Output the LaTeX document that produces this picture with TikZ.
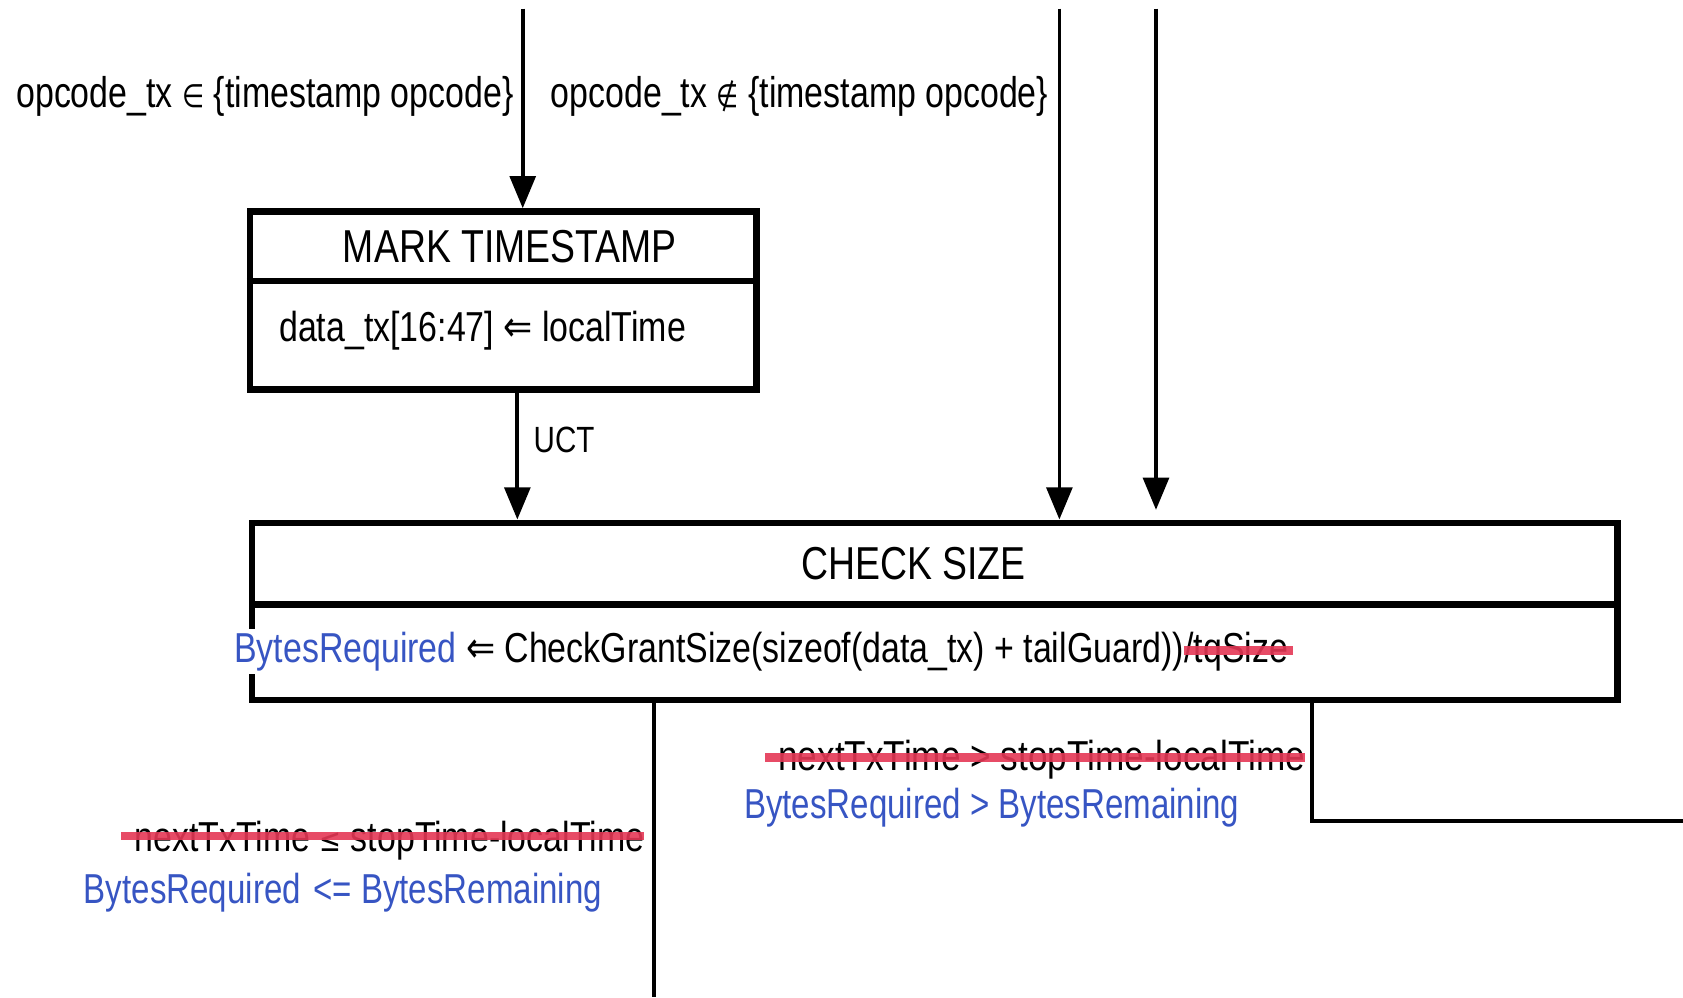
\documentclass[tikz,border=0pt]{standalone}
\usepackage{fontspec}
\setmainfont{Liberation Sans}
\newfontfamily\symf{DejaVu Sans}
\usetikzlibrary{arrows.meta}
\definecolor{reqblue}{RGB}{55,85,195}
\definecolor{strikered}{RGB}{228,55,85}
% narrow (condensed) setting of a text, optional width factor
\newcommand{\nar}[2][0.81]{\scalebox{#1}[1]{#2}}
\newcommand{\sym}[1]{{\symf\fontsize{30}{30}\selectfont #1}}
\newcommand{\assign}{{\symf\fontsize{40}{40}\selectfont ⇐}}

\begin{document}
\begin{tikzpicture}[x=1pt,y=-1pt,
  box/.style={draw, line width=6pt, inner sep=0pt},
  conn/.style={line width=3.5pt},
  arr/.style={conn, -{Triangle[width=24pt,length=30pt]}},
  lbl/.style={inner sep=0pt, anchor=base west},
  body/.style={lbl, font=\fontsize{39}{47}\selectfont},
  title/.style={inner sep=0pt, anchor=base, font=\fontsize{43}{50}\selectfont},
  strike/.style={draw=strikered, line width=8pt, opacity=0.9},
]
\useasboundingbox (0,0) rectangle (1568,929);

% states
\node[box, minimum width=472pt, minimum height=166pt] (mts) at (469,280) {};
\draw[line width=6pt] (mts.west |- 0,262) -- (mts.east |- 0,262);
\node[box, minimum width=1272pt, minimum height=165pt] (cs) at (871,569.5) {};
\draw[line width=6pt] (cs.west |- 0,563) -- (cs.east |- 0,563);

% state texts
\node[title] (mtst) at (475,245) {\nar{MARK TIMESTAMP}};
\node[body] (mtsb) at (260,318) {\nar{data\_tx[16:47] \assign{} localTime}};
\node[title] (cst) at (851,540) {\nar{CHECK SIZE}};
\node[body, fill=white, inner ysep=3pt] (csb) at (218,617)
  {\nar{\textcolor{reqblue}{BytesRequired} \assign{} CheckGrantSize(sizeof(data\_tx) + tailGuard))}};
\node[body] (tq) at (csb.base east) {\nar{/tqSize}};
\draw[strike] ([yshift=11pt]tq.base west) -- ([yshift=11pt,xshift=4pt]tq.base east);

% incoming transitions
\coordinate (in1) at (487,8);
\coordinate (in2) at (987,8);
\coordinate (in3) at (1077,8);
\draw[arr] (in1) -- (in1 |- mts.north);
\draw[arr] (in2) -- (in2 |- cs.north);
\draw[arr, shorten >=9pt] (in3) -- (in3 |- cs.north);
\node[lbl, font=\fontsize{40}{48}\selectfont] (g1) at (15,100)
  {\nar[0.79]{opcode\_tx \sym{∈} \{timestamp opcode\}}};
\node[lbl, font=\fontsize{40}{48}\selectfont] (g2) at (513,100)
  {\nar[0.79]{opcode\_tx \sym{∉} \{timestamp opcode\}}};

% MARK TIMESTAMP -> CHECK SIZE
\draw[arr] (mts.south -| 482,0) -- (cs.north -| 482,0);
\node[lbl, font=\fontsize{34}{40}\selectfont] (uct) at (497,422) {\nar{UCT}};

% outgoing transitions
\coordinate (out1) at (609,929);
\coordinate (out2) at (1568,765);
\draw[conn] (out1 |- cs.south) -- (out1);
\draw[conn] (cs.south -| 1222,0) |- (out2);

\node[body] (rs) at (725,718) {\nar[0.84]{nextTxTime > stopTime-localTime}};
\draw[strike] ([xshift=-12pt,yshift=12pt]rs.base west) -- ([yshift=12pt]rs.base east);
\node[body] (rb) at (693,763) {\nar[0.79]{\textcolor{reqblue}{BytesRequired > BytesRemaining}}};

\node[body] (ls) at (125,793) {\nar[0.81]{nextTxTime \sym{≤} stopTime-localTime}};
\draw[strike] ([xshift=-12pt,yshift=14pt]ls.base west) -- ([yshift=14pt]ls.base east);
\node[body] (lb) at (78,842) {\nar[0.79]{\textcolor{reqblue}{BytesRequired\hspace{4pt} <= BytesRemaining}}};
\end{tikzpicture}
\end{document}
